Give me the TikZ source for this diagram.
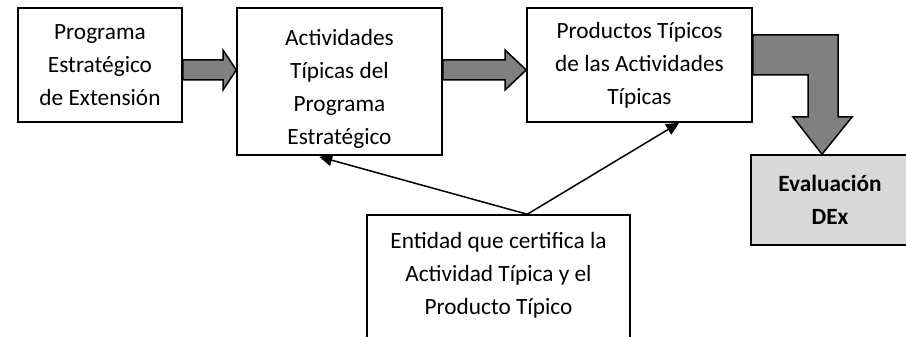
\documentclass[tikz,border=0pt]{standalone}
\usepackage{fontspec}
\setmainfont{Carlito}
\usetikzlibrary{arrows.meta,calc}
\definecolor{arrgray}{HTML}{808080}
\definecolor{evgray}{HTML}{D9D9D9}
\begin{document}
\begin{tikzpicture}[x=1pt,y=-1pt,
  box/.style={draw, line width=1.5pt, rectangle, align=center, inner sep=0pt, font=\fontsize{23.3}{33}\selectfont},
  fat/.style={draw, line width=1.5pt, fill=arrgray, line join=miter},
  thinarr/.style={line width=1.5pt, -{Triangle[length=13pt,width=12pt]}}]
\clip (0,0) rectangle (906,337);
\fill[white] (0,0) rectangle (906,337);
\node[box, minimum width=164pt, minimum height=114pt] (b1) at (100,65) {Programa\\Estratégico\\de Extensión};
\node[box, minimum width=205pt, minimum height=147pt] (b2) at (339.5,81.5) {\raisebox{-7pt}[\height][\depth]{\begin{tabular}{@{}c@{}}Actividades\\Típicas del\\Programa\\Estratégico\end{tabular}}};
\node[box, minimum width=225pt, minimum height=114pt] (b3) at (639.5,65) {Productos Típicos\\de las Actividades\\Típicas};
\node[box, fill=evgray, minimum width=158pt, minimum height=90pt, font=\fontsize{23.3}{33}\selectfont\bfseries] (ev) at (830,200) {Evaluación\\DEx};
\node[box, minimum width=263pt, minimum height=150pt] (b4) at (498.5,290) {Entidad que certifica la\\Actividad Típica y el\\Producto Típico\\\mbox{}};
% fat arrows
\draw[fat] (b1.east |- 0,60) -- (223,60) -- (223,50) -- (b2.west |- 0,70) -- (223,90) -- (223,80) -- (b1.east |- 0,80) -- cycle;
\draw[fat] (b2.east |- 0,60) -- (505,60) -- (505,50) -- (b3.west |- 0,70) -- (505,90) -- (505,80) -- (b2.east |- 0,80) -- cycle;
\draw[fat] (b3.east |- 0,35) -- (838,35) -- (838,117) -- (852,117) -- (822,0 |- ev.north) -- (793,117) -- (808,117) -- (808,75) -- (b3.east |- 0,75) -- cycle;
% thin arrows
\coordinate (s) at ($(b4.north west)+(161,0)$);
\draw[thinarr] (s) -- ($(b2.south west)+(83,1)$);
\draw[thinarr] (s) -- ($(b3.south west)+(153,0)$);
\end{tikzpicture}
\end{document}
